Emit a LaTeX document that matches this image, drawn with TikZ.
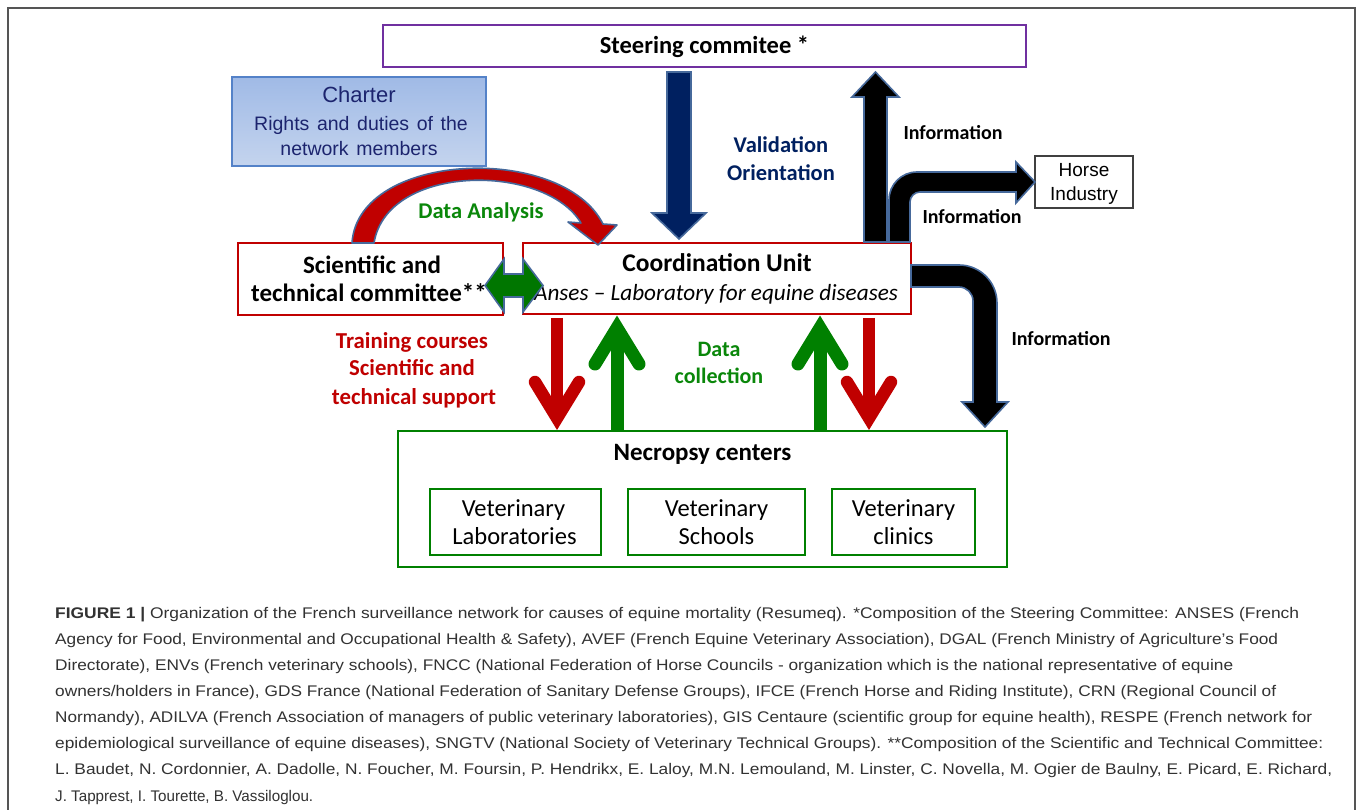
\documentclass[tikz,border=0pt]{standalone}
\usepackage{fontspec}
\usepackage{graphicx}
\setmainfont{Carlito}
\newfontfamily\arialf{Liberation Sans}
\usetikzlibrary{calc}
\definecolor{pptred}{RGB}{192,0,0}
\definecolor{pptgreen}{RGB}{0,128,0}
\definecolor{dgreen}{RGB}{0,118,0}
\definecolor{txtgreen}{RGB}{10,135,10}
\definecolor{pptnavy}{RGB}{0,32,96}
\definecolor{pptpurple}{RGB}{112,48,160}
\definecolor{arrowedge}{RGB}{70,105,155}
\definecolor{charterTop}{RGB}{160,186,230}
\definecolor{charterBot}{RGB}{196,212,238}
\definecolor{charterLine}{RGB}{84,130,200}
\definecolor{charterText}{RGB}{28,36,110}
\definecolor{capgray}{RGB}{50,50,50}
\definecolor{framegray}{RGB}{85,85,85}
\definecolor{horseline}{RGB}{64,64,64}
\newcommand\fsz[2]{\fontsize{#1}{#2}\selectfont}
\newcommand\capfit[2]{\resizebox{#1}{\height}{#2}}
\newcommand\wsp{\hspace{0.39em}}
\begin{document}
\begin{tikzpicture}[x=1pt,y=-1pt,
  lbl/.style={inner sep=0pt, anchor=base},
  boxred/.style={draw=pptred, line width=2.3pt, inner sep=0pt},
  boxgreen/.style={draw=pptgreen, line width=2.3pt, inner sep=0pt},
  blockarr/.style={draw=arrowedge, line width=1.6pt, line join=miter},
  thinR/.style={draw=pptred, line width=12.5pt},
  thinG/.style={draw=pptgreen, line width=13pt},
  headR/.style={draw=pptred, line width=12.5pt, line cap=round, line join=miter},
  headG/.style={draw=pptgreen, line width=13pt, line cap=round, line join=miter},
  capline/.style={inner sep=0pt, anchor=base west, text=capgray, font=\arialf\fsz{15.4}{18}}
]
\useasboundingbox (0,0) rectangle (1358,810);
\fill[white] (0,0) rectangle (1358,810);
% outer frame
\draw[framegray, line width=1.6pt] (8,811) -- (8,8) -- (1355,8) -- (1355,811);

% boxes
\node[draw=pptpurple, line width=2.3pt, inner sep=0pt, minimum width=643pt, minimum height=42pt] (steer) at (704.5,46) {};
\node[draw=charterLine, line width=1.3pt, top color=charterTop, bottom color=charterBot, inner sep=0pt, minimum width=254pt, minimum height=89pt] (charter) at (359,121.5) {};
\node[boxred, minimum width=265pt, minimum height=72pt] (sci) at (370.5,279) {};
\node[boxred, minimum width=388pt, minimum height=71pt] (coord) at (717,278.5) {};
\node[draw=horseline, line width=1.4pt, inner sep=0pt, minimum width=98pt, minimum height=52pt] (horse) at (1084,182) {};
\node[boxgreen, minimum width=609pt, minimum height=136pt] (necro) at (702.5,499) {};
\node[boxgreen, minimum width=171pt, minimum height=66pt] (vlab) at (515.5,522) {};
\node[boxgreen, minimum width=177pt, minimum height=66pt] (vsch) at (716.5,522) {};
\node[boxgreen, minimum width=143pt, minimum height=66pt] (vcli) at (903.5,522) {};

% texts in boxes
\node[lbl, font=\bfseries\fsz{24.5}{28}] (tsteer) at (704.5,54) {Steering commitee *};
\node[lbl, text=charterText, font=\arialf\fsz{22}{24}] (tch1) at (359,103) {Charter};
\node[lbl, text=charterText, font=\arialf\fsz{19.5}{22}] (tch2) at (361,131) {Rights\wsp and\wsp duties\wsp of\wsp the};
\node[lbl, text=charterText, font=\arialf\fsz{19.5}{22}] (tch3) at (359,156) {network\wsp members};
\node[lbl, font=\bfseries\fsz{25}{28}] (tsci1) at (372,274) {Scientific and};
\node[lbl, font=\bfseries\fsz{25}{28}] (tsci2) at (369,302) {technical committee**};
\node[lbl, font=\bfseries\fsz{25.5}{28}] (tco1) at (717,272) {Coordination Unit};
\node[lbl, font=\itshape\fsz{23.2}{28}] (tco2) at (716,300.5) {Anses -- Laboratory for equine diseases};
\node[lbl, font=\arialf\fsz{19}{22}] (th1) at (1084,177) {Horse};
\node[lbl, font=\arialf\fsz{19}{22}] (th2) at (1084,201) {Industry};
\node[lbl, font=\bfseries\fsz{25}{28}] (tnec) at (702.5,460) {Necropsy centers};
\node[lbl, font=\fsz{24.5}{28}] (tvl1) at (513.5,516) {Veterinary};
\node[lbl, font=\fsz{24.5}{28}] (tvl2) at (514.5,544) {Laboratories};
\node[lbl, font=\fsz{24.5}{28}] (tvs1) at (716.5,516) {Veterinary};
\node[lbl, font=\fsz{24.5}{28}] (tvs2) at (716.5,544) {Schools};
\node[lbl, font=\fsz{24.5}{28}] (tvc1) at (903.5,516) {Veterinary};
\node[lbl, font=\fsz{24.5}{28}] (tvc2) at (903.5,544) {clinics};

% curved red arrow (sci -> coord)
\filldraw[fill=pptred, blockarr, line join=round]
  (352,243) .. controls (358,151) and (562,143) .. (603,224)
  -- (617,225) -- (598,245) -- (568,222) -- (581,223)
  .. controls (545,163) and (387,163) .. (374,243) -- cycle;

% blue down arrow (steer -> coord)
\filldraw[fill=pptnavy, blockarr] (667,72) -- (691,72) -- (691,213) -- (706,213) -- (679,239) -- (652,213) -- (667,213) -- cycle;

% black up arrow (coord -> steer)
\filldraw[fill=black, blockarr] (864,242) -- (864,97) -- (852,97) -- (875.5,72) -- (899,97) -- (887,97) -- (887,242) -- cycle;

% black bent arrow to horse industry
\filldraw[fill=black, blockarr] (889,242) -- (889,200) .. controls (889,184.5) and (901.5,172) .. (917,172)
  -- (1016,172) -- (1016,162) -- (1035,182) -- (1016,203) -- (1016,192) -- (920,192)
  .. controls (914.5,192) and (910,196.5) .. (910,202) -- (910,242) -- cycle;

% black bent arrow down to necropsy
\filldraw[fill=black, blockarr] (911,265) -- (959,265) .. controls (980,265) and (997,282) .. (997,303)
  -- (997,402) -- (1008,402) -- (985,427) -- (962,402) -- (973,402) -- (973,301)
  .. controls (973,293.3) and (966.7,287) .. (959,287) -- (911,287) -- cycle;

% green double arrow sci <-> coord
\filldraw[fill=dgreen, blockarr] (485,285.5) -- (504,259) -- (504,274) -- (523,274) -- (523,259) -- (543,285.5)
  -- (523,312) -- (523,297) -- (504,297) -- (504,312) -- cycle;

% thin arrows coord <-> necropsy
\coordinate (rA) at (557,318);
\coordinate (rB) at (869,318);
\coordinate (gA) at (617,431);
\coordinate (gB) at (820,431);
\draw[thinR] (rA) -- ++(0,94);
\draw[headR] ($(rA)+(-22,64)$) -- ($(rA)+(0,100)$) -- ($(rA)+(22,64)$);
\draw[thinR] (rB) -- ++(0,94);
\draw[headR] ($(rB)+(-22,64)$) -- ($(rB)+(0,100)$) -- ($(rB)+(22,64)$);
\draw[thinG] (gA) -- ++(0,-97);
\draw[headG] ($(gA)+(-22,-67)$) -- ($(gA)+(0,-103)$) -- ($(gA)+(22,-67)$);
\draw[thinG] (gB) -- ++(0,-97);
\draw[headG] ($(gB)+(-22,-67)$) -- ($(gB)+(0,-103)$) -- ($(gB)+(22,-67)$);

% arrow labels
\node[lbl, text=txtgreen, font=\bfseries\fsz{22.5}{26}] (lda) at (481,219) {Data Analysis};
\node[lbl, text=pptnavy, font=\bfseries\fsz{22.5}{26}] (lv1) at (781,153) {Validation};
\node[lbl, text=pptnavy, font=\bfseries\fsz{22.5}{26}] (lv2) at (781,181) {Orientation};
\node[lbl, font=\bfseries\fsz{20}{24}] (li1) at (953,139.5) {Information};
\node[lbl, font=\bfseries\fsz{20}{24}] (li2) at (972,223.5) {Information};
\node[lbl, font=\bfseries\fsz{20}{24}] (li3) at (1061,345.5) {Information};
\node[lbl, text=pptred, font=\bfseries\fsz{22.8}{27}] (lt1) at (412,349) {Training courses};
\node[lbl, text=pptred, font=\bfseries\fsz{22.8}{27}] (lt2) at (412,376) {Scientific and};
\node[lbl, text=pptred, font=\bfseries\fsz{22.8}{27}] (lt3) at (414,404) {technical support};
\node[lbl, text=txtgreen, font=\bfseries\fsz{22}{27}] (ld1) at (719,357) {Data};
\node[lbl, text=txtgreen, font=\bfseries\fsz{22}{27}] (ld2) at (719,384) {collection};

% caption
\node[capline] (c1) at (55,618.3) {\capfit{1244pt}{\textbf{FIGURE 1 |} Organization of the French surveillance network for causes of equine mortality (Resumeq). *Composition of the Steering Committee: ANSES (French}};
\node[capline] (c2) at (55,644.4) {\capfit{1223pt}{Agency for Food, Environmental and Occupational Health \& Safety), AVEF (French Equine Veterinary Association), DGAL (French Ministry of Agriculture’s Food}};
\node[capline] (c3) at (55,670.5) {\capfit{1178pt}{Directorate), ENVs (French veterinary schools), FNCC (National Federation of Horse Councils - organization which is the national representative of equine}};
\node[capline] (c4) at (55,696.6) {\capfit{1221pt}{owners/holders in France), GDS France (National Federation of Sanitary Defense Groups), IFCE (French Horse and Riding Institute), CRN (Regional Council of}};
\node[capline] (c5) at (55,722.7) {\capfit{1257pt}{Normandy), ADILVA (French Association of managers of public veterinary laboratories), GIS Centaure (scientific group for equine health), RESPE (French network for}};
\node[capline] (c6) at (55,748.8) {\capfit{1268pt}{epidemiological surveillance of equine diseases), SNGTV (National Society of Veterinary Technical Groups). **Composition of the Scientific and Technical Committee:}};
\node[capline] (c7) at (55,774.9) {\capfit{1277pt}{L. Baudet, N. Cordonnier, A. Dadolle, N. Foucher, M. Foursin, P. Hendrikx, E. Laloy, M.N. Lemouland, M. Linster, C. Novella, M. Ogier de Baulny, E. Picard, E. Richard,}};
\node[capline] (c8) at (55,801) {\capfit{258pt}{J. Tapprest, I. Tourette, B. Vassiloglou.}};
\end{tikzpicture}
\end{document}
